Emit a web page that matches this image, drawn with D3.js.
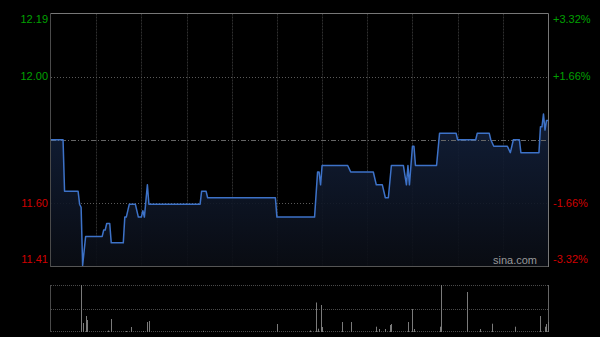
<!DOCTYPE html>
<html>
<head>
<meta charset="utf-8">
<script src="https://cdn.jsdelivr.net/npm/d3@7"></script>
<style>
  html, body { margin: 0; padding: 0; background: #000; }
  svg { display: block; font-family: "Liberation Sans", Arial, sans-serif; }
</style>
</head>
<body>
<svg id="chart" width="600" height="337"></svg>
<script>
// previous close and axis ticks
const prevClose = 11.80;
const pctTicks = [3.32, 1.66, -1.66, -3.32];
const priceLabels = ["12.19", "12.00", "11.60", "11.41"];
const pctLabels = ["+3.32%", "+1.66%", "-1.66%", "-3.32%"];

// intraday price, minute index (0 = 09:30, 330 = 16:00, lunch removed)
const minutes = [0, 8, 9, 18, 19, 20, 21, 23, 34, 35, 36, 37, 39, 40, 48, 49, 50, 52, 56, 58, 60, 61, 62, 64, 65,
  99, 100, 103, 104, 149, 150, 175, 177, 178, 179, 180, 197, 199, 214, 216, 220, 222, 224, 226, 234, 236, 237, 238,
  240, 241, 242, 256, 258, 269, 270, 282, 283, 291, 292, 294, 303, 305, 307, 311, 312, 324, 325, 326, 327, 328, 329, 330];
const prices = [11.80, 11.80, 11.64, 11.64, 11.60, 11.59, 11.41, 11.50, 11.50, 11.52, 11.52, 11.54, 11.54, 11.48, 11.48, 11.56, 11.56, 11.60, 11.60, 11.56, 11.56, 11.58, 11.56, 11.66, 11.60,
  11.60, 11.64, 11.64, 11.62, 11.62, 11.56, 11.56, 11.70, 11.70, 11.66, 11.72, 11.72, 11.70, 11.70, 11.66, 11.66, 11.62, 11.62, 11.72, 11.72, 11.66, 11.72, 11.66,
  11.78, 11.78, 11.72, 11.72, 11.82, 11.82, 11.80, 11.80, 11.82, 11.82, 11.80, 11.78, 11.78, 11.76, 11.80, 11.80, 11.76, 11.76, 11.84, 11.84, 11.88, 11.83, 11.86, 11.86];

// volume bars (k shares)
const volMinutes = [20, 21, 23, 24, 38, 40, 50, 53, 61, 64, 65, 101, 150, 172, 176, 177, 179, 180, 193, 199, 216, 218, 222,
  225, 226, 237, 240, 241, 258, 259, 276, 285, 293, 308, 325, 328, 329, 330];
const volumes = [470, 90, 160, 120, 15, 130, 10, 50, 10, 100, 110, 12, 80, 15, 295, 33, 270, 50, 100, 100, 53, 30, 30,
  70, 80, 100, 230, 30, 53, 470, 400, 30, 83, 53, 160, 53, 80, 100];

const svg = d3.select("#chart");
const plotLeft = 51, plotRight = 548, plotTop = 13.5, plotBottom = 266;
const vTop = 285, vBottom = 332;

const x = d3.scaleLinear().domain([0, 330]).range([plotLeft, plotRight]);
const y = d3.scaleLinear()
  .domain([prevClose * (1 - 0.0332), prevClose * (1 + 0.0332)])
  .range([plotBottom, plotTop]);
const yv = d3.scaleLinear().domain([0, d3.max(volumes)]).range([vBottom, vTop]);

// gradient under the line
const grad = svg.append("defs").append("linearGradient")
  .attr("id", "fillGrad").attr("x1", 0).attr("y1", 0).attr("x2", 0).attr("y2", 1);
grad.append("stop").attr("offset", "0%").attr("stop-color", "#13213d").attr("stop-opacity", 0.9);
grad.append("stop").attr("offset", "100%").attr("stop-color", "#0a0d14").attr("stop-opacity", 0.9);

// vertical grid every 30 min
const gridMins = d3.range(30, 330, 30);
svg.append("g").selectAll("line").data(gridMins).enter().append("line")
  .attr("x1", m => Math.round(x(m)) + 0.5).attr("x2", m => Math.round(x(m)) + 0.5)
  .attr("y1", plotTop).attr("y2", plotBottom)
  .attr("stroke", "#2f2f2f").attr("stroke-dasharray", "2,1");

// horizontal grid at +-1.66%
svg.append("g").selectAll("line").data([1.66, -1.66]).enter().append("line")
  .attr("x1", plotLeft).attr("x2", plotRight)
  .attr("y1", p => Math.round(y(prevClose * (1 + p / 100))) + 0.5)
  .attr("y2", p => Math.round(y(prevClose * (1 + p / 100))) + 0.5)
  .attr("stroke", "#5a5a5a").attr("stroke-dasharray", "1,2");

// area + line
const pts = minutes.map((m, i) => [m, prices[i]]);
svg.append("path").datum(pts)
  .attr("fill", "url(#fillGrad)")
  .attr("d", d3.area().x(d => x(d[0])).y0(plotBottom).y1(d => y(d[1])));

// previous close line
svg.append("line")
  .attr("x1", plotLeft).attr("x2", plotRight)
  .attr("y1", Math.round(y(prevClose)) + 0.5).attr("y2", Math.round(y(prevClose)) + 0.5)
  .attr("stroke", "#666").attr("stroke-dasharray", "5,2,1,2");

svg.append("path").datum(pts)
  .attr("fill", "none")
  .attr("stroke", "#3d72c8")
  .attr("stroke-width", 1.5)
  .attr("stroke-linejoin", "round")
  .attr("d", d3.line().x(d => x(d[0])).y(d => y(d[1])));

// frame
svg.append("line").attr("x1", plotLeft - 0.5).attr("x2", plotRight + 0.5).attr("y1", plotTop).attr("y2", plotTop).attr("stroke", "#777");
svg.append("line").attr("x1", plotLeft - 0.5).attr("x2", plotRight + 0.5).attr("y1", plotBottom + 0.5).attr("y2", plotBottom + 0.5).attr("stroke", "#555");
svg.append("line").attr("x1", plotLeft - 0.5).attr("x2", plotLeft - 0.5).attr("y1", plotTop).attr("y2", plotBottom + 1).attr("stroke", "#4a4a4a");
svg.append("line").attr("x1", plotRight + 0.5).attr("x2", plotRight + 0.5).attr("y1", plotTop).attr("y2", plotBottom + 1).attr("stroke", "#777");

// axis labels
const labelY = p => Math.max(plotTop + 6, Math.min(plotBottom - 7, y(prevClose * (1 + p / 100))));
const tickColor = p => p > 0 ? "#00a000" : "#d00000";
svg.append("g").selectAll("text").data(pctTicks).enter().append("text")
  .attr("x", 48).attr("y", labelY).attr("dy", "0.35em")
  .attr("text-anchor", "end").attr("font-size", 11)
  .attr("fill", tickColor)
  .text((p, i) => priceLabels[i]);
svg.append("g").selectAll("text").data(pctTicks).enter().append("text")
  .attr("x", 553).attr("y", labelY).attr("dy", "0.35em")
  .attr("text-anchor", "start").attr("font-size", 11)
  .attr("fill", tickColor)
  .text((p, i) => pctLabels[i]);

// watermark
svg.append("text").attr("x", 537).attr("y", 264).attr("text-anchor", "end")
  .attr("font-size", 11).attr("fill", "#999").text("sina.com");

// volume panel
[vTop + 0.5, Math.round((vTop + vBottom) / 2) + 0.5, vBottom - 0.5].forEach(yy => {
  svg.append("line").attr("x1", plotLeft).attr("x2", plotRight).attr("y1", yy).attr("y2", yy)
    .attr("stroke", "#4a4a4a").attr("stroke-dasharray", "1,1");
});
svg.append("line").attr("x1", plotLeft - 0.5).attr("x2", plotLeft - 0.5).attr("y1", vTop).attr("y2", vBottom).attr("stroke", "#4a4a4a");
svg.append("line").attr("x1", plotRight + 0.5).attr("x2", plotRight + 0.5).attr("y1", vTop).attr("y2", vBottom).attr("stroke", "#666");

svg.append("g").selectAll("rect").data(volMinutes).enter().append("rect")
  .attr("x", m => Math.round(x(m)))
  .attr("width", 1)
  .attr("y", (m, i) => yv(volumes[i]))
  .attr("height", (m, i) => vBottom - yv(volumes[i]))
  .attr("fill", "#7a7a7a");
</script>
</body>
</html>
